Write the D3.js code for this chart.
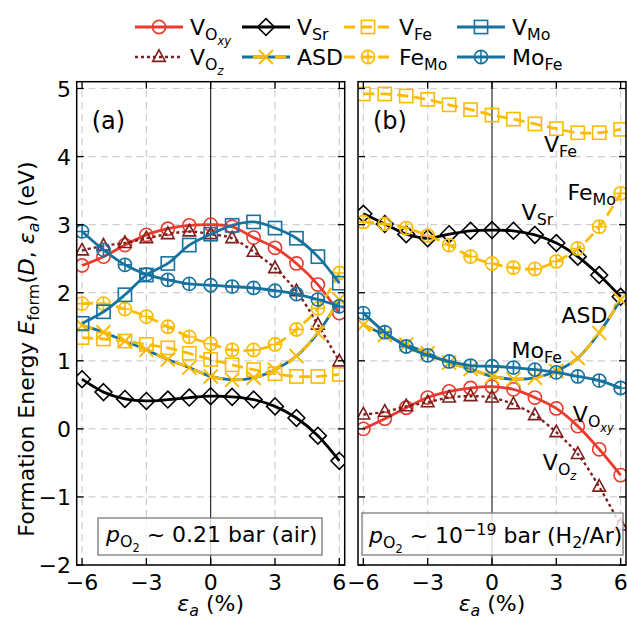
<!DOCTYPE html>
<html><head><meta charset="utf-8">
<script src="https://cdn.jsdelivr.net/npm/d3@7"></script>
<style>body{margin:0;background:#fff} svg{display:block} text{font-family:"DejaVu Sans",sans-serif;fill:#000}</style>
</head><body><svg id="c" width="627" height="620"></svg>
<script>
// ---------------- data ----------------
const strain = [-6,-5,-4,-3,-2,-1,0,1,2,3,4,5,6];
const xTicks = [-6,-3,0,3,6];
const yTicks = [-2,-1,0,1,2,3,4,5];

// panel (a): p_O2 ~ 0.21 bar (air)
const airVOxy = [2.40,2.53,2.70,2.85,2.94,2.99,3.00,2.97,2.81,2.66,2.43,2.12,1.70];
const airVOz  = [2.62,2.69,2.73,2.80,2.86,2.90,2.86,2.80,2.60,2.36,2.02,1.53,0.99];
const airVSr  = [0.73,0.54,0.44,0.41,0.43,0.46,0.48,0.47,0.43,0.33,0.16,-0.10,-0.47];
const airASD  = [1.52,1.42,1.29,1.16,1.02,0.90,0.77,0.72,0.75,0.87,1.07,1.41,1.90];
const airVFe  = [1.34,1.32,1.29,1.24,1.19,1.11,1.02,0.94,0.87,0.81,0.77,0.77,0.80];
const airFeMo = [1.84,1.84,1.76,1.65,1.50,1.35,1.25,1.16,1.16,1.24,1.46,1.77,2.29];
const airVMo  = [1.55,1.72,1.97,2.26,2.43,2.70,2.86,2.99,3.04,2.95,2.80,2.53,2.14];
const airMoFe = [2.90,2.63,2.41,2.27,2.19,2.13,2.11,2.09,2.07,2.03,1.98,1.90,1.80];

// panel (b): p_O2 ~ 1e-19 bar (H2/Ar)
const h2VOxy = [0.00,0.15,0.31,0.46,0.55,0.60,0.62,0.58,0.46,0.30,0.04,-0.30,-0.68];
const h2VOz  = [0.21,0.25,0.33,0.39,0.46,0.48,0.46,0.36,0.20,-0.05,-0.37,-0.85,-1.42];
const h2VSr  = [3.16,3.01,2.86,2.80,2.86,2.91,2.92,2.91,2.85,2.73,2.53,2.26,1.94];
const h2ASD  = [1.53,1.38,1.24,1.11,0.97,0.88,0.77,0.73,0.75,0.85,1.04,1.41,1.90];
const h2VFe  = [4.92,4.92,4.89,4.84,4.76,4.69,4.61,4.55,4.48,4.41,4.35,4.35,4.40];
const h2FeMo = [3.04,3.01,2.95,2.84,2.70,2.53,2.43,2.37,2.35,2.46,2.65,2.97,3.46];
const h2MoFe = [1.70,1.42,1.21,1.08,0.99,0.93,0.92,0.90,0.87,0.83,0.77,0.71,0.60];

// ---------------- styles ----------------
const RED="#ea3b2e", DRED="#7d1f1c", BLK="#000", YEL="#fbbb00", BLU="#16729f";
const styles = {
  VOxy:{color:RED, marker:"circle", dash:null, w:2.8},
  VOz:{color:DRED, marker:"tri", dash:"3,3", w:2.4},
  VSr:{color:BLK, marker:"diamond", dash:null, w:2.8},
  ASD:{color:YEL, marker:"x", dash:"11,9", w:2.8, under:BLU},
  VFe:{color:YEL, marker:"square", dash:"11,6", w:2.8},
  FeMo:{color:YEL, marker:"oplus", dash:"11,6", w:2.8},
  VMo:{color:BLU, marker:"square", dash:null, w:2.8},
  MoFe:{color:BLU, marker:"oplus", dash:null, w:2.8}
};
const FS = 22;

const svg = d3.select("#c");
const yScale = d3.scaleLinear().domain([-2,5.1]).range([565,81.7]);
const xA = d3.scaleLinear().domain([-6.25,6.25]).range([76.7,344.7]);
const xB = d3.scaleLinear().domain([-6.25,6.25]).range([358,626]);

// rich text: parts {t, l (0 base,1 sub,2 subsub,-1 sup), i italic}
function rich(g, x, y, parts, size, anchor, transform){
  const t = g.append("text").attr("x",x).attr("y",y).attr("font-size",size)
    .attr("text-anchor",anchor||"start");
  if(transform) t.attr("transform",transform);
  let cur=0;
  parts.forEach(p=>{
    const l=p.l||0;
    let off=0, fs=size;
    if(l===1){off=size*0.24; fs=size*0.72;}
    if(l===2){off=size*0.24+size*0.72*0.32; fs=size*0.72*0.72;}
    if(l===-1){off=-size*0.38; fs=size*0.72;}
    const ts=t.append("tspan").attr("font-size",fs).text(p.t);
    if(off-cur!==0) ts.attr("dy",off-cur);
    if(p.i) ts.attr("font-style","italic");
    cur=off;
  });
  return t;
}

function marker(g, type, cx, cy, color){
  const m = g.append("g").attr("transform",`translate(${cx},${cy})`)
    .attr("fill","none").attr("stroke",color).attr("stroke-width",1.6);
  if(type==="circle") m.append("circle").attr("r",6.6);
  else if(type==="oplus"){ m.append("circle").attr("r",6.6);
    m.append("path").attr("d","M-6.6,0H6.6M0,-6.6V6.6"); }
  else if(type==="square") m.append("rect").attr("x",-6.6).attr("y",-6.6).attr("width",13.2).attr("height",13.2);
  else if(type==="diamond") m.append("path").attr("d","M0,-8.4L8.4,0L0,8.4L-8.4,0Z");
  else if(type==="tri") m.append("path").attr("d","M0,-7.2L6.3,4.4L-6.3,4.4Z");
  else if(type==="x") m.append("path").attr("d","M-7,-7L7,7M-7,7L7,-7").attr("stroke-width",2);
}

function panel(x, series, label){
  const g = svg.append("g");
  const [x0,x1]=x.range(), [yb,yt]=yScale.range();
  // grid
  const grid=g.append("g").attr("stroke","#cfcfcf").attr("stroke-width",1.2).attr("stroke-dasharray","7,5");
  xTicks.filter(d=>d!==0).forEach(d=>grid.append("line").attr("x1",x(d)).attr("x2",x(d)).attr("y1",yb).attr("y2",yt));
  yTicks.forEach(d=>grid.append("line").attr("x1",x0).attr("x2",x1).attr("y1",yScale(d)).attr("y2",yScale(d)));
  g.append("line").attr("x1",x(0)).attr("x2",x(0)).attr("y1",yb).attr("y2",yt).attr("stroke","#000").attr("stroke-width",1);
  // clip
  const id="clip"+Math.round(x0);
  svg.append("clipPath").attr("id",id).append("rect").attr("x",x0).attr("y",yt).attr("width",x1-x0).attr("height",yb-yt);
  const pg=g.append("g").attr("clip-path",`url(#${id})`);
  const line=d3.line().x((d,i)=>x(strain[i])).y(d=>yScale(d)).curve(d3.curveCatmullRom.alpha(0.5));
  series.forEach(s=>{
    const st=styles[s.key];
    if(st.under) pg.append("path").attr("d",line(s.values)).attr("fill","none").attr("stroke",st.under).attr("stroke-width",st.w);
    pg.append("path").attr("d",line(s.values)).attr("fill","none").attr("stroke",st.color)
      .attr("stroke-width",st.w).attr("stroke-dasharray",st.dash);
    s.values.forEach((v,i)=>marker(pg,st.marker,x(strain[i]),yScale(v),st.color));
  });
  // spines
  g.append("rect").attr("x",x0).attr("y",yt).attr("width",x1-x0).attr("height",yb-yt)
    .attr("fill","none").attr("stroke","#000").attr("stroke-width",1.5);
  const tk=g.append("g").attr("stroke","#000").attr("stroke-width",1.3);
  xTicks.forEach(d=>{ tk.append("line").attr("x1",x(d)).attr("x2",x(d)).attr("y1",yb).attr("y2",yb-7);
    tk.append("line").attr("x1",x(d)).attr("x2",x(d)).attr("y1",yt).attr("y2",yt+7);});
  yTicks.forEach(d=>{ tk.append("line").attr("x1",x0).attr("x2",x0+7).attr("y1",yScale(d)).attr("y2",yScale(d));
    tk.append("line").attr("x1",x1).attr("x2",x1-7).attr("y1",yScale(d)).attr("y2",yScale(d));});
  // x tick labels
  xTicks.forEach(d=>g.append("text").attr("x",x(d)).attr("y",590).attr("text-anchor","middle")
    .attr("font-size",FS).text(d<0?"\u2212"+Math.abs(d):d));
  // x axis label
  rich(g,(x0+x1)/2,611,[{t:"\u03b5",i:1},{t:"a",l:1,i:1},{t:" (%)"}],FS,"middle");
  // panel label
  g.append("text").attr("x",x0+15).attr("y",129).attr("font-size",24).text(label);
  return g;
}

const gA = panel(xA,[
  {key:"VOxy",values:airVOxy},{key:"VOz",values:airVOz},{key:"VSr",values:airVSr},
  {key:"ASD",values:airASD},{key:"VFe",values:airVFe},{key:"FeMo",values:airFeMo},
  {key:"VMo",values:airVMo},{key:"MoFe",values:airMoFe}],"(a)");
const gB = panel(xB,[
  {key:"VOxy",values:h2VOxy},{key:"VOz",values:h2VOz},{key:"VSr",values:h2VSr},
  {key:"ASD",values:h2ASD},{key:"VFe",values:h2VFe},{key:"FeMo",values:h2FeMo},
  {key:"MoFe",values:h2MoFe}],"(b)");

// y tick labels (panel a)
yTicks.forEach(d=>svg.append("text").attr("x",71).attr("y",yScale(d)+8).attr("text-anchor","end")
  .attr("font-size",FS).text(d<0?"\u2212"+Math.abs(d):d));
// y axis label
rich(svg,0,0,[{t:"Formation Energy "},{t:"E",i:1},{t:"form",l:1},{t:"("},{t:"D",i:1},{t:", "},
  {t:"\u03b5",i:1},{t:"a",l:1,i:1},{t:") (eV)"}],FS,"middle","translate(34,349) rotate(-90)");

// condition boxes
function condBox(x,y,w,h,parts,tx,ty){
  svg.append("rect").attr("x",x).attr("y",y).attr("width",w).attr("height",h)
    .attr("fill","#fff").attr("fill-opacity",0.8).attr("stroke","#7a7a7a").attr("stroke-width",1.3);
  rich(svg,tx,ty,parts,FS,"start");
}
condBox(98,518,224,37,[{t:"p",i:1},{t:"O",l:1},{t:"2",l:2},{t:" ~ 0.21 bar (air)"}],106,542);
condBox(362,513,261,42,[{t:"p",i:1},{t:"O",l:1},{t:"2",l:2},{t:" ~ 10"},{t:"\u221219",l:-1},{t:" bar (H"},{t:"2",l:1},{t:"/Ar)"}],369,543);

// in-panel labels (panel b), placed in data coordinates
const bLabels = [
  {x:2.42,y:4.07,parts:[{t:"V"},{t:"Fe",l:1}]},
  {x:3.52,y:3.36,parts:[{t:"Fe"},{t:"Mo",l:1}]},
  {x:1.38,y:3.07,parts:[{t:"V"},{t:"Sr",l:1}]},
  {x:3.24,y:1.56,parts:[{t:"ASD"}]},
  {x:0.91,y:1.04,parts:[{t:"Mo"},{t:"Fe",l:1}]},
  {x:3.77,y:0.105,parts:[{t:"V"},{t:"O",l:1},{t:"xy",l:2,i:1}]},
  {x:2.37,y:-0.60,parts:[{t:"V"},{t:"O",l:1},{t:"z",l:2,i:1}]}
];
bLabels.forEach(d=>rich(svg,xB(d.x),yScale(d.y),d.parts,FS,"start"));

// legend
const legendItems = [
  {key:"VOxy",col:0,row:0,parts:[{t:"V"},{t:"O",l:1},{t:"xy",l:2,i:1}]},
  {key:"VOz",col:0,row:1,parts:[{t:"V"},{t:"O",l:1},{t:"z",l:2,i:1}]},
  {key:"VSr",col:1,row:0,parts:[{t:"V"},{t:"Sr",l:1}]},
  {key:"ASD",col:1,row:1,parts:[{t:"ASD"}]},
  {key:"VFe",col:2,row:0,parts:[{t:"V"},{t:"Fe",l:1}]},
  {key:"FeMo",col:2,row:1,parts:[{t:"Fe"},{t:"Mo",l:1}]},
  {key:"VMo",col:3,row:0,parts:[{t:"V"},{t:"Mo",l:1}]},
  {key:"MoFe",col:3,row:1,parts:[{t:"Mo"},{t:"Fe",l:1}]}
];
const colX=[135,242,344,457], rowY=[27,57];
const lg=svg.append("g");
legendItems.forEach(it=>{
  const st=styles[it.key], x0=colX[it.col], y=rowY[it.row];
  if(st.under) lg.append("line").attr("x1",x0).attr("x2",x0+48).attr("y1",y).attr("y2",y).attr("stroke",st.under).attr("stroke-width",st.w);
  lg.append("line").attr("x1",x0).attr("x2",x0+48).attr("y1",y).attr("y2",y).attr("stroke",st.color)
    .attr("stroke-width",st.w).attr("stroke-dasharray",st.under?"11,11":st.dash)
    .attr("stroke-dashoffset",st.under?-11:null);
  marker(lg,st.marker,x0+24,y,st.color);
  rich(lg,x0+55,y+8,it.parts,FS,"start");
});
</script></body></html>
